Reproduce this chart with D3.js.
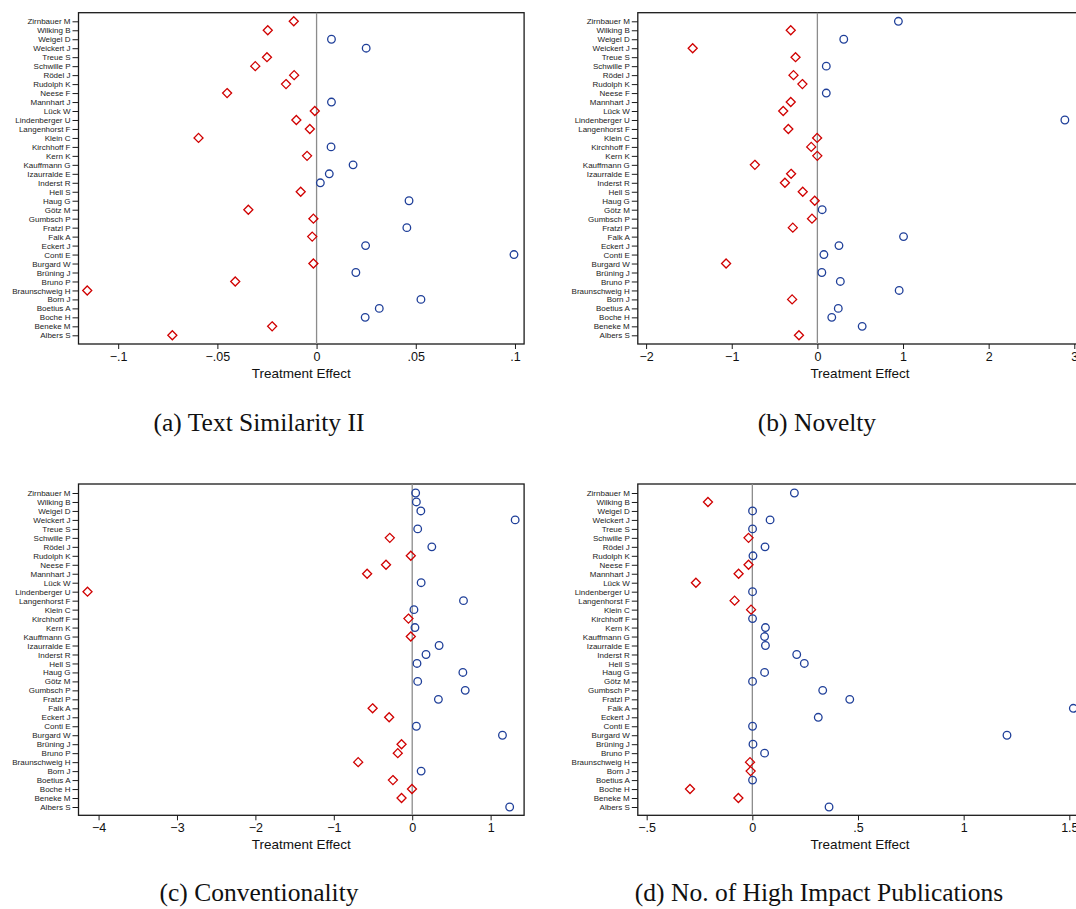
<!DOCTYPE html>
<html>
<head>
<meta charset="utf-8">
<script src="https://cdn.jsdelivr.net/npm/d3@7"></script>
<style>
  html, body { margin: 0; padding: 0; background: #fff; overflow: hidden; }
  svg { display: block; }
</style>
</head>
<body>
<svg id="chart" width="1076" height="909"></svg>
<script>
// ---- Data (top to bottom) ----
const names = ["Zirnbauer M","Wilking B","Weigel D","Weickert J","Treue S","Schwille P","Rödel J","Rudolph K","Neese F","Mannhart J","Lück W","Lindenberger U","Langenhorst F","Klein C","Kirchhoff F","Kern K","Kauffmann G","Izaurralde E","Inderst R","Hell S","Haug G","Götz M","Gumbsch P","Fratzl P","Falk A","Eckert J","Conti E","Burgard W","Brüning J","Bruno P","Braunschweig H","Born J","Boetius A","Boche H","Beneke M","Albers S"];

const textSimilarity = [-0.0115,-0.0246,0.0075,0.025,-0.025,-0.0309,-0.0113,-0.0154,-0.0451,0.0075,-0.0009,-0.0102,-0.0034,-0.0595,0.0073,-0.0048,0.0184,0.0064,0.0019,-0.008,0.0466,-0.0344,-0.0016,0.0455,-0.0022,0.0247,0.0995,-0.0016,0.0198,-0.041,-0.1156,0.0526,0.0316,0.0245,-0.0224,-0.0727];

const novelty = [0.946,-0.311,0.308,-1.456,-0.255,0.104,-0.279,-0.175,0.104,-0.311,-0.399,2.89,-0.339,-0.003,-0.072,-0.001,-0.730,-0.307,-0.379,-0.171,-0.031,0.056,-0.063,-0.287,1.006,0.252,0.076,-1.066,0.052,0.268,0.955,-0.295,0.244,0.168,0.523,-0.215];

const conventionality = [0.044,0.053,0.11,1.313,0.07,-0.286,0.25,-0.018,-0.334,-0.575,0.114,-4.141,0.654,0.022,-0.048,0.035,-0.018,0.343,0.176,0.061,0.646,0.07,0.676,0.334,-0.505,-0.294,0.053,1.151,-0.136,-0.184,-0.689,0.114,-0.246,-0.003,-0.136,1.243];

const highImpact = [0.199,-0.210,0.001,0.084,0.001,-0.018,0.060,0.003,-0.018,-0.065,-0.267,0.001,-0.084,-0.006,0.001,0.062,0.058,0.062,0.210,0.246,0.058,0.001,0.333,0.461,1.519,0.312,0.001,1.205,0.003,0.058,-0.011,-0.008,0.001,-0.295,-0.066,0.363];

const ticksA = [-0.1,-0.05,0,0.05,0.1];
const tickLabelsA = ["\u2212.1","\u2212.05","0",".05",".1"];
const ticksB = [-2,-1,0,1,2,3];
const tickLabelsB = ["\u22122","\u22121","0","1","2","3"];
const ticksC = [-4,-3,-2,-1,0,1];
const tickLabelsC = ["\u22124","\u22123","\u22122","\u22121","0","1"];
const ticksD = [-0.5,0,0.5,1,1.5];
const tickLabelsD = ["\u2212.5","0",".5","1","1.5"];

const captions = ["(a) Text Similarity II","(b) Novelty","(c) Conventionality","(d) No. of High Impact Publications"];
const xTitle = "Treatment Effect";

// ---- Layout ----
const svg = d3.select("#chart");
const BLUE = "#1f3f99", RED = "#d00000";

const panels = [
  {vals: textSimilarity, domain: [-0.12, 0.1046], x0: 78.5, x1: 524.1, y0: 12.7, y1: 344, rowTop: 21.3, rowBot: 335.3, ticks: ticksA, labels: tickLabelsA, cap: captions[0], capX: 259, capY: 431},
  {vals: novelty, domain: [-2.097, 3.09], x0: 637.8, x1: 1082, y0: 12.7, y1: 344, rowTop: 21.3, rowBot: 335.3, ticks: ticksB, labels: tickLabelsB, cap: captions[1], capX: 817, capY: 431},
  {vals: conventionality, domain: [-4.256, 1.427], x0: 78.5, x1: 524.1, y0: 484, y1: 815.3, rowTop: 493, rowBot: 807, ticks: ticksC, labels: tickLabelsC, cap: captions[2], capX: 259, capY: 901},
  {vals: highImpact, domain: [-0.542, 1.56], x0: 637.8, x1: 1082, y0: 484, y1: 815.3, rowTop: 493, rowBot: 807, ticks: ticksD, labels: tickLabelsD, cap: captions[3], capX: 819, capY: 901}
];

panels.forEach(p => {
  const g = svg.append("g");
  const x = d3.scaleLinear().domain(p.domain).range([p.x0, p.x1]);
  const y = d3.scalePoint().domain(names).range([p.rowTop, p.rowBot]);

  // frame
  g.append("rect").attr("x", p.x0).attr("y", p.y0)
    .attr("width", p.x1 - p.x0).attr("height", p.y1 - p.y0)
    .attr("fill", "none").attr("stroke", "#1a1a1a").attr("stroke-width", 1.3);

  // zero line
  g.append("line").attr("x1", x(0)).attr("x2", x(0))
    .attr("y1", p.y0).attr("y2", p.y1)
    .attr("stroke", "#8c8c8c").attr("stroke-width", 1.3);

  // y axis
  const yAxis = d3.axisLeft(y).tickSize(6).tickPadding(2);
  const ya = g.append("g").attr("transform", `translate(${p.x0},0)`).call(yAxis);
  ya.select(".domain").remove();
  ya.selectAll(".tick line").attr("stroke", "#1a1a1a").attr("stroke-width", 1);
  ya.selectAll(".tick text").attr("font-family", "Liberation Sans, Arial, sans-serif")
    .attr("font-size", 8).attr("fill", "#222");

  // x axis
  const xAxis = d3.axisBottom(x).tickValues(p.ticks)
    .tickFormat((d, i) => p.labels[i]).tickSize(5).tickPadding(3);
  const xa = g.append("g").attr("transform", `translate(0,${p.y1})`).call(xAxis);
  xa.select(".domain").remove();
  xa.selectAll(".tick line").attr("stroke", "#1a1a1a").attr("stroke-width", 1);
  xa.selectAll(".tick text").attr("font-family", "Liberation Sans, Arial, sans-serif")
    .attr("font-size", 12.5).attr("fill", "#111");

  // x title
  g.append("text").attr("x", (p.x0 + p.x1) / 2)
    .attr("y", p.y1 + 34).attr("text-anchor", "middle")
    .attr("font-family", "Liberation Sans, Arial, sans-serif")
    .attr("font-size", 13.5).attr("fill", "#111").text(xTitle);

  // markers
  const data = names.map((n, i) => ({name: n, v: p.vals[i]}));
  g.selectAll("circle.pt").data(data.filter(d => d.v >= 0)).join("circle")
    .attr("class", "pt")
    .attr("cx", d => x(d.v)).attr("cy", d => y(d.name)).attr("r", 3.8)
    .attr("fill", "none").attr("stroke", BLUE).attr("stroke-width", 1.3);
  const diamond = d3.symbol().type(d3.symbolDiamond2).size(52);
  g.selectAll("path.pt").data(data.filter(d => d.v < 0)).join("path")
    .attr("class", "pt")
    .attr("transform", d => `translate(${x(d.v)},${y(d.name)})`)
    .attr("d", diamond)
    .attr("fill", "none").attr("stroke", RED).attr("stroke-width", 1.3);

  // caption
  svg.append("text").attr("x", p.capX).attr("y", p.capY).attr("text-anchor", "middle")
    .attr("font-family", "Liberation Serif, serif").attr("font-size", 25.5).attr("fill", "#111")
    .text(p.cap);
});
</script>
</body>
</html>
